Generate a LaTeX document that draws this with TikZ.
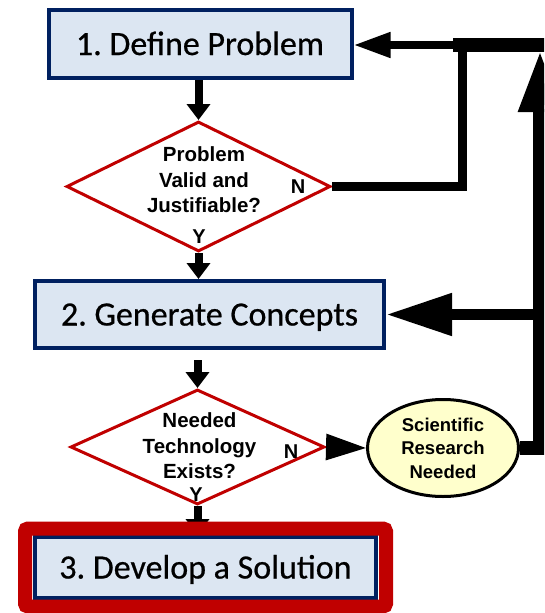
\documentclass[tikz,border=0pt]{standalone}
\usepackage{fontspec}
\usepackage{tikz}
\usetikzlibrary{shapes.geometric, arrows.meta, calc, fit, positioning}
\newfontfamily\calibri{Carlito}[FakeBold=0.6]
\newfontfamily\arial{Liberation Sans}
\definecolor{navy}{HTML}{002060}
\definecolor{paleblue}{HTML}{DCE6F2}
\definecolor{darkred}{HTML}{C00000}
\definecolor{paleyellow}{HTML}{FFFFCC}
\tikzstyle{stage} = [rectangle, draw=navy, line width=4pt, fill=paleblue,
font=\calibri\fontsize{34}{40}\selectfont, text height=28pt, text depth=6pt,
inner sep=0pt]
\tikzstyle{decision} = [diamond, draw=darkred, line width=3pt, fill=white,
inner sep=0pt]
\tikzstyle{question} = [align=center, inner sep=0pt,
font=\arial\bfseries\fontsize{20.5}{25.5}\selectfont]
\tikzstyle{answer} = [inner sep=0pt, font=\arial\bfseries\fontsize{20}{24}\selectfont]
\tikzstyle{research} = [ellipse, draw=black, line width=3pt, fill=paleyellow,
align=center, inner sep=0pt, font=\arial\bfseries\fontsize{18.5}{23.5}\selectfont]
\tikzstyle{redframe} = [rectangle, draw=darkred, line width=14pt, rounded
corners=3pt, inner xsep=8pt, inner ysep=6.5pt]
\tikzstyle{arrow} = [line width=8pt, -{Triangle[length=16pt, width=23pt]}]
\tikzstyle{feedback} = [line width=14pt]

\begin{document}
\begin{tikzpicture}[x=1pt, y=-1pt]
    \useasboundingbox (0,0) rectangle (544,613); \clip (0,0) rectangle (544,613);
    % \draw[help lines, step=50] (0,0) grid (544,613);
    \node (b1) [stage, minimum width=303, minimum height=68] at (200,44) {1.\ Define
      Problem}; \node (q1) [decision, minimum width=264, minimum height=130] at
    (198.5,186.5) {}; \node (b2) [stage, minimum width=349, minimum height=67] at
    (209.5,314.5) {2.\ Generate Concepts}; \node (q2) [decision, minimum width=254,
      minimum height=115] at (197.5,447) {}; \node (sr) [research, minimum
      width=151, minimum height=97] at (443,448) {Scientific\\Research\\Needed};
    \node (b3) [stage, minimum width=341, minimum height=61] at (205.5,567.5) {3.\
      Develop a Solution};

    \node (q1t) [question] at (204,180) {Problem\\Valid and\\Justifiable?};
    \node (q2t) [question] at (199.5,446) {Needed\\Technology\\Exists?};
    \node (y1) [answer] at (199,237) {Y}; \node (n1) [answer] at (298,187) {N};
    \node (y2) [answer] at (196,495) {Y}; \node (n2) [answer] at (291,452) {N};

    \coordinate (up) at (540,50); % tip of the big arrow going up
    \coordinate (TR) at (547,45); % top right corner of the loop
    \coordinate (TJ) at (453,45); % thick bar ends here
    \coordinate (NJ) at (462,45); % the N line of q1 joins the bar

    \draw [arrow] (q1.north |- b1.south) -- (q1.north); \draw [arrow] (q1.south)
    -- (q1.south |- b2.north); \draw [arrow, shorten <=10pt] (q2.north |-
    b2.south) -- (q2.north); \draw [arrow] (q2.south) -- (q2.south |- b3.north);
    \draw [line width=3pt, -{Triangle[length=40pt, width=26pt]}] (q2.east) --
    (sr.west);

    \draw [feedback, -{Triangle[length=62pt, width=40pt]}] (sr.east) -| (up);
    \draw [feedback] (TR) -- (TJ); \draw [line width=9pt] (q1.east) -| (NJ);
    \draw [line width=7.5pt, -{Triangle[length=37pt, width=24pt]}] (TJ) -- (TJ
    -| b1.east); \draw [line width=11pt, -{Triangle[length=66pt, width=40pt]}]
    (b2.east -| up) -- (b2.east);

    \node (b3f) [redframe, fit=(b3)] {};

  \end{tikzpicture}
\end{document}
